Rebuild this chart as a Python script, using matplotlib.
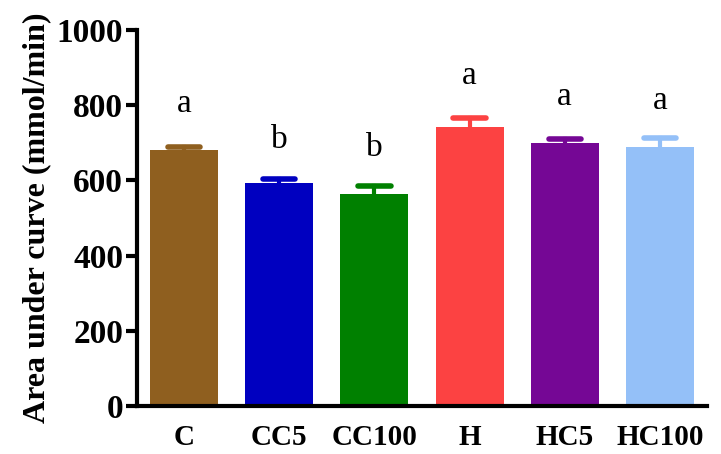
import matplotlib
matplotlib.use("Agg")
import matplotlib.pyplot as plt
import numpy as np

categories = ["C", "CC5", "CC100", "H", "HC5", "HC100"]
values = [681, 593, 565, 742, 700, 690]
errors = [9, 12, 19, 23, 11, 22]
letters = ["a", "b", "b", "a", "a", "a"]
letter_y = [762, 668, 646, 838, 781, 771]
colors = ["#8F5F1F", "#0000C0", "#008000", "#FC4242", "#750795", "#94C0F8"]
yticks = [0, 200, 400, 600, 800, 1000]

plt.rcParams['font.family'] = ['Liberation Serif', 'DejaVu Serif']

fig = plt.figure(figsize=(7.21, 4.54), dpi=100)
ax = fig.add_axes([0.19, 0.1057, 0.7906, 0.8283])

x = np.arange(len(categories))
ax.bar(x, values, width=0.716, color=colors, zorder=2)
cap_half = 0.17
for xi, v, e, c in zip(x, values, errors, colors):
    ax.plot([xi, xi], [v, v + e], color=c, lw=3, zorder=1)
    ax.plot([xi - cap_half, xi + cap_half], [v + e, v + e], color=c, lw=4,
            solid_capstyle='round', zorder=1)
for xi, t, ly in zip(x, letters, letter_y):
    ax.text(xi, ly, t, ha='center', va='bottom', fontsize=24)

ax.set_xlim(-0.495, 5.495)
ax.set_ylim(0, 1000)
ax.set_yticks(yticks)
ax.set_yticklabels([str(t) for t in yticks], fontsize=24, fontweight='bold')
ax.set_xticks(x)
ax.set_xticklabels(categories, fontsize=21, fontweight='bold')
ax.tick_params(axis='x', length=0, pad=13)
ax.tick_params(axis='y', length=8, width=3, pad=2)
ax.spines['top'].set_visible(False)
ax.spines['right'].set_visible(False)
ax.spines['left'].set_linewidth(3)
ax.spines['bottom'].set_linewidth(3)
ax.set_ylabel("Area under curve (mmol/min)", fontsize=23, fontweight='bold', labelpad=4)

fig.savefig("out.png", dpi=100)
